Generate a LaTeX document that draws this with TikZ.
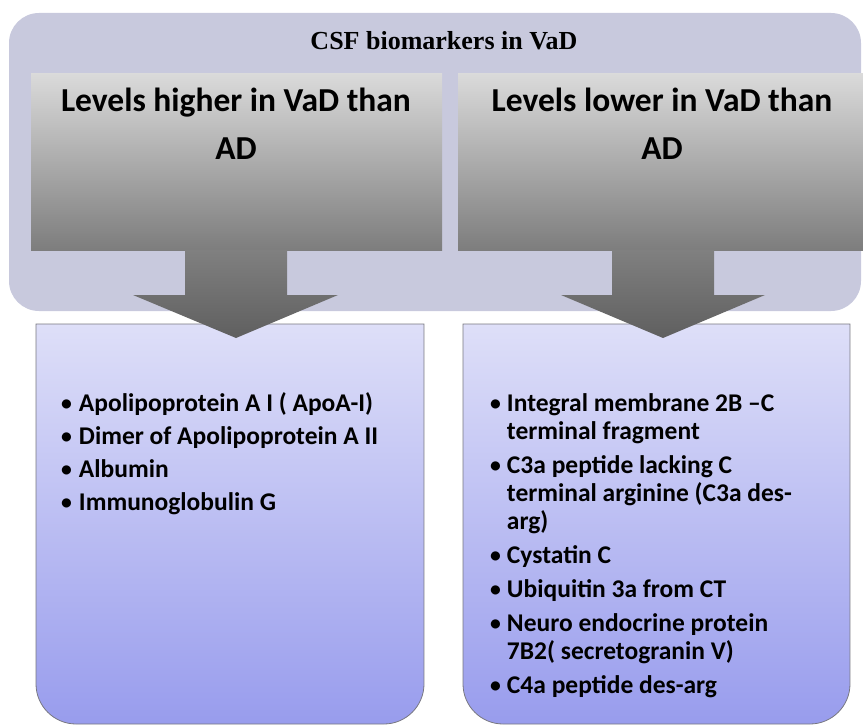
\documentclass[tikz,border=0pt]{standalone}
\usepackage{fontspec}
\setmainfont{Carlito}
\newfontfamily\titlefont{Liberation Serif}
\definecolor{outerfill}{RGB}{200,201,221}
\definecolor{boxtop}{RGB}{218,218,218}
\definecolor{boxbot}{RGB}{125,125,125}
\definecolor{arrtop}{RGB}{128,128,128}
\definecolor{arrbot}{RGB}{95,95,95}
\definecolor{listtop}{RGB}{222,223,248}
\definecolor{listbot}{RGB}{152,156,237}
\definecolor{listedge}{RGB}{120,120,128}
\newcommand{\bul}{\raisebox{1pt}{\scalebox{0.85}{\textbullet}}}
\tikzset{
  graybox/.style={top color=boxtop, bottom color=boxbot, draw=none},
  grayarrow/.style={top color=arrtop, bottom color=arrbot, draw=none},
  listbox/.style={top color=listtop, bottom color=listbot, draw=listedge, line width=0.8pt},
  headtext/.style={font=\bfseries\fontsize{33.5}{49}\selectfont, inner sep=0pt},
  listtext/.style={font=\bfseries\fontsize{25.5}{28}\selectfont, inner sep=0pt, anchor=base west}
}
\begin{document}
\begin{tikzpicture}[x=1pt,y=-1pt]
\useasboundingbox (0,0) rectangle (863,725);
% outer container
\fill[outerfill, rounded corners=30pt] (9,13) rectangle (861,311);
\node[font=\titlefont\bfseries\fontsize{26}{30}\selectfont, inner sep=0pt, anchor=base] (title) at (444,50) {CSF biomarkers in VaD};
% gray header boxes
\path[graybox] (31,74) rectangle (442,250);
\path[graybox] (458,74) rectangle (863,250);
% list boxes
\path[listbox] (36,324) -- (424,324) -- (424,684) .. controls (424,706) and (406,724) .. (384,724) -- (76,724) .. controls (54,724) and (36,706) .. (36,684) -- cycle;
\path[listbox] (463,324) -- (850,324) -- (850,684) .. controls (850,706) and (832,724) .. (810,724) -- (503,724) .. controls (481,724) and (463,706) .. (463,684) -- cycle;
% arrows (drawn over the list boxes)
\path[grayarrow] (185,250) -- (287,250) -- (287,295) -- (338,295) -- (236,338) -- (133,295) -- (185,295) -- cycle;
\path[grayarrow] (612,250) -- (714,250) -- (714,295) -- (765,295) -- (663,338) -- (561,295) -- (612,295) -- cycle;
% header texts
\node[headtext, anchor=base] (hleft) at (236,111) {\begin{tabular}[t]{@{}c@{}}Levels higher in VaD than\\AD\end{tabular}};
\node[headtext, anchor=base] (hright) at (662,111) {\begin{tabular}[t]{@{}c@{}}Levels lower in VaD than\\AD\end{tabular}};
% lists
\node[listtext] (lleft) at (61,411) {\begin{tabular}[t]{@{}l@{\hspace{7pt}}l@{}}
\bul & Apolipoprotein A I ( ApoA-I)\\[5pt]
\bul & Dimer of Apolipoprotein A II\\[5pt]
\bul & Albumin\\[5pt]
\bul & Immunoglobulin G
\end{tabular}};
\node[listtext] (lright) at (490,411) {\begin{tabular}[t]{@{}l@{\hspace{6pt}}l@{}}
\bul & Integral membrane 2B –C\\
 & terminal fragment\\[6pt]
\bul & C3a peptide lacking C\\
 & terminal arginine (C3a des-\\
 & arg)\\[6pt]
\bul & Cystatin C\\[6pt]
\bul & Ubiquitin 3a from CT\\[6pt]
\bul & Neuro endocrine protein\\
 & 7B2( secretogranin V)\\[6pt]
\bul & C4a peptide des-arg
\end{tabular}};
\end{tikzpicture}
\end{document}
